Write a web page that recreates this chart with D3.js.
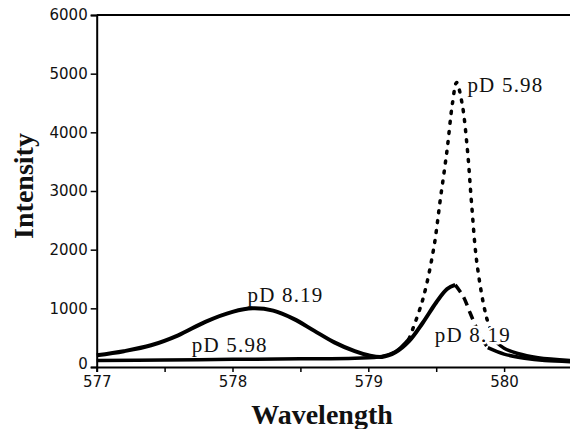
<!DOCTYPE html>
<html>
<head>
<meta charset="utf-8">
<script src="https://cdn.jsdelivr.net/npm/d3@7"></script>
<style>
  html, body { margin: 0; padding: 0; background: #fff; }
  svg { display: block; }
  .tick text { font-family: "DejaVu Sans", sans-serif; font-size: 15px; fill: #111; }
  .ann { font-family: "Liberation Serif", "Times New Roman", serif; font-size: 21px; letter-spacing: 1.2px; fill: #111; }
  .title { font-family: "Liberation Serif", "Times New Roman", serif; font-weight: bold; font-size: 28px; fill: #111; }
</style>
</head>
<body>
<div id="chart"></div>
<script>
// wavelength / intensity
const wl819 = [577.0, 577.2, 577.4, 577.6, 577.8, 578.0, 578.15, 578.3, 578.45, 578.6, 578.75, 578.9, 579.0, 579.1,
               579.2, 579.3, 579.4, 579.5, 579.58, 579.64, 579.7, 579.75, 579.82, 579.88, 580.0, 580.15, 580.3, 580.5];
const int819 = [200, 270, 370, 540, 770, 940, 1000, 960, 820, 620, 420, 270, 200, 170,
                250, 440, 750, 1100, 1330, 1400, 1200, 920, 550, 330, 220, 150, 110, 90];

const wl598 = [577.0, 577.5, 578.0, 578.5, 578.9, 579.1, 579.2, 579.3, 579.4, 579.48, 579.53, 579.58, 579.62, 579.65,
               579.69, 579.73, 579.76, 579.8, 579.87, 579.93, 580.0, 580.1, 580.25, 580.5];
const int598 = [110, 120, 130, 140, 150, 180, 260, 480, 1140, 2000, 2850, 3700, 4500, 4850,
                4500, 3700, 2800, 1770, 850, 450, 320, 230, 160, 110];

const xTicks = [577, 578, 579, 580];
const yTicks = [0, 1000, 2000, 3000, 4000, 5000, 6000];

// labels: text, wavelength, intensity at start of baseline
const labelText = ['pD 5.98', 'pD 8.19', 'pD 8.19', 'pD 5.98'];
const labelWl = [579.73, 579.49, 578.11, 577.7];
const labelInt = [4680, 430, 1110, 260];

const width = 570, height = 429;
const x = d3.scaleLinear().domain([577, 580.5]).range([96.7, 572]);
const y = d3.scaleLinear().domain([0, 6000]).range([367, 15]);

const svg = d3.select('#chart').append('svg')
    .attr('width', width).attr('height', height);

const s819 = wl819.map((w, i) => ({ w: w, v: int819[i] }));
const s598 = wl598.map((w, i) => ({ w: w, v: int598[i] }));

const line = d3.line()
    .x(d => x(d.w))
    .y(d => y(d.v))
    .curve(d3.curveCatmullRom.alpha(0.5));

// pD 5.98: solid baseline and tail, dotted peak
svg.append('path')
    .attr('d', line.defined(d => d.w <= 579.3 || d.w >= 579.93)(s598))
    .attr('fill', 'none').attr('stroke', '#000').attr('stroke-width', 3.5);
svg.append('path')
    .attr('d', line.defined(d => d.w >= 579.3 && d.w <= 579.93)(s598))
    .attr('fill', 'none').attr('stroke', '#000').attr('stroke-width', 3.5)
    .attr('stroke-linecap', 'round').attr('stroke-dasharray', '2,8');

// pD 8.19: solid up to the peak, dashed on the way down, solid tail
svg.append('path')
    .attr('d', line.defined(d => d.w <= 579.64)(s819))
    .attr('fill', 'none').attr('stroke', '#000').attr('stroke-width', 4);
svg.append('path')
    .attr('d', line.defined(d => d.w >= 579.64 && d.w <= 579.88)(s819))
    .attr('fill', 'none').attr('stroke', '#000').attr('stroke-width', 3.5)
    .attr('stroke-dasharray', '9,6');
svg.append('path')
    .attr('d', line.defined(d => d.w >= 579.88)(s819))
    .attr('fill', 'none').attr('stroke', '#000').attr('stroke-width', 3.5);

// axes
const xAxis = svg.append('g')
    .attr('transform', `translate(0,${y(0)})`)
    .call(d3.axisBottom(x).tickValues(d3.range(577, 580.51, 0.5))
        .tickSize(5).tickPadding(4)
        .tickFormat(d => xTicks.includes(d) ? d : ''));
const yAxis = svg.append('g')
    .attr('transform', `translate(${x(577)},0)`)
    .call(d3.axisLeft(y).tickValues(yTicks).tickSize(6).tickPadding(3).tickFormat(d3.format('d')));

// nudge the "0" up a little so it clears "577"
yAxis.selectAll('.tick text').filter(d => d === 0).attr('dy', '0.1em');

[xAxis, yAxis].forEach(g => {
    g.select('.domain').attr('stroke', '#000').attr('stroke-width', 2);
    g.selectAll('.tick line').attr('stroke', '#000').attr('stroke-width', 1.5);
});

// top frame line
svg.append('line')
    .attr('x1', x(577)).attr('x2', x(580.5))
    .attr('y1', y(6000)).attr('y2', y(6000))
    .attr('stroke', '#000').attr('stroke-width', 2);

// annotations (the one sitting on the curves gets a white halo, like the original)
svg.selectAll('.ann').data(labelText).enter().append('text')
    .attr('class', 'ann')
    .attr('x', (d, i) => x(labelWl[i]))
    .attr('y', (d, i) => y(labelInt[i]))
    .attr('stroke', (d, i) => i === 1 ? '#fff' : 'none')
    .attr('stroke-width', 5)
    .attr('paint-order', 'stroke')
    .text(d => d);

// titles
svg.append('text').attr('class', 'title')
    .attr('x', 322).attr('y', 424)
    .attr('text-anchor', 'middle')
    .text('Wavelength');
svg.append('text').attr('class', 'title')
    .attr('transform', 'translate(33,186) rotate(-90)')
    .attr('text-anchor', 'middle')
    .text('Intensity');
</script>
</body>
</html>
